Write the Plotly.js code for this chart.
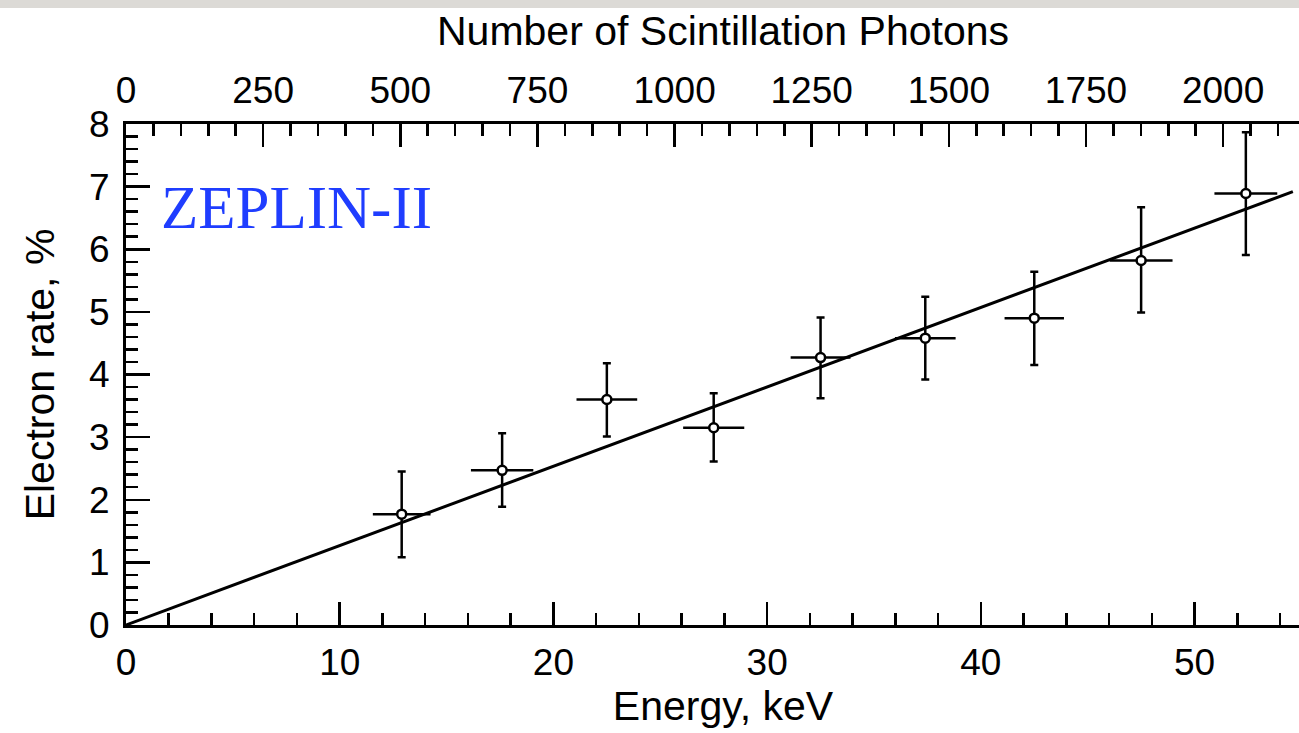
<!DOCTYPE html>
<html>
<head>
<meta charset="utf-8">
<script src="https://cdn.plot.ly/plotly-3.0.1.min.js"></script>
<style>
  html, body { margin: 0; padding: 0; background: #ffffff; overflow: hidden; }
  #chart { width: 1320px; height: 733px; }
</style>
</head>
<body>
<div id="chart"></div>
<script>
// Energy bins (keV) and measured electron rate (%)
const energyKeV   = [12.9, 17.6, 22.5, 27.5, 32.5, 37.4, 42.5, 47.5, 52.4];
const electronRate = [1.77, 2.47, 3.60, 3.15, 4.27, 4.58, 4.90, 5.82, 6.89];
const rateErrPlus  = [0.68, 0.59, 0.58, 0.55, 0.64, 0.66, 0.74, 0.85, 0.98];
const rateErrMinus = [0.69, 0.58, 0.59, 0.54, 0.65, 0.66, 0.75, 0.83, 0.98];
const energyErr    = [1.35, 1.46, 1.42, 1.43, 1.40, 1.42, 1.39, 1.47, 1.47];

// Linear fit through the origin
const fitX = [0, 54.6];
const fitY = [0, 6.92];

// Top axis (number of scintillation photons)
const photonTicks = [0, 250, 500, 750, 1000, 1250, 1500, 1750, 2000];

const sans = 'Liberation Sans, Arial, Helvetica, sans-serif';

const traces = [
  {
    x: fitX, y: fitY, type: 'scatter', mode: 'lines',
    line: { color: '#000000', width: 3 },
    hoverinfo: 'skip', showlegend: false
  },
  {
    x: energyKeV, y: electronRate, type: 'scatter', mode: 'markers',
    marker: { symbol: 'circle', size: 9, color: '#ffffff', line: { color: '#000000', width: 2.5 } },
    error_y: { type: 'data', symmetric: false, array: rateErrPlus, arrayminus: rateErrMinus,
               color: '#000000', thickness: 2.5, width: 4 },
    error_x: { type: 'data', array: energyErr, color: '#000000', thickness: 2.5, width: 0 },
    showlegend: false
  }
];

const layout = {
  width: 1320, height: 733,
  margin: { l: 126, r: 0, t: 124, b: 108 },
  paper_bgcolor: '#ffffff',
  plot_bgcolor: 'rgba(0,0,0,0)',
  showlegend: false,
  font: { family: sans, color: '#000000' },
  xaxis: {
    range: [0, 55.87],
    tickvals: [0, 10, 20, 30, 40, 50],
    ticktext: ['0', '10', '20', '30', '40', '50'],
    ticks: 'inside', ticklen: 23, tickwidth: 2.5, tickcolor: '#000000',
    minor: { dtick: 2, tick0: 0, ticks: 'inside', ticklen: 12, tickwidth: 2.5, tickcolor: '#000000' },
    showline: true, linewidth: 3, linecolor: '#000000',
    showgrid: false, zeroline: false,
    tickfont: { family: sans, size: 37, color: '#000000' },
    ticklabelstandoff: 3,
    title: { text: 'Energy, keV', font: { family: sans, size: 41, color: '#000000' }, standoff: 4 },
    automargin: false
  },
  xaxis2: {
    overlaying: 'x', side: 'top',
    range: [0, 2176.6],
    tickvals: photonTicks,
    ticktext: photonTicks.map(String),
    ticks: 'inside', ticklen: 23, tickwidth: 2.5, tickcolor: '#000000',
    minor: { dtick: 50, tick0: 0, ticks: 'inside', ticklen: 12, tickwidth: 2.5, tickcolor: '#000000' },
    showline: true, linewidth: 3, linecolor: '#000000',
    showgrid: false, zeroline: false,
    tickfont: { family: sans, size: 37, color: '#000000' },
    ticklabelstandoff: 3,
    title: { text: 'Number of Scintillation Photons', font: { family: sans, size: 41, color: '#000000' }, standoff: 12 },
    automargin: false
  },
  yaxis: {
    range: [0, 8],
    tickvals: [0, 1, 2, 3, 4, 5, 6, 7, 8],
    ticks: 'inside', ticklen: 24, tickwidth: 2.5, tickcolor: '#000000',
    minor: { dtick: 0.2, tick0: 0, ticks: 'inside', ticklen: 12, tickwidth: 2.5, tickcolor: '#000000' },
    showline: true, linewidth: 3, linecolor: '#000000',
    showgrid: false, zeroline: false,
    tickfont: { family: sans, size: 37, color: '#000000' },
    ticklabelstandoff: 6,
    title: { text: 'Electron rate, %', font: { family: sans, size: 41, color: '#000000' }, standoff: 22 },
    automargin: false
  },
  shapes: [
    { type: 'rect', xref: 'paper', yref: 'paper', x0: -0.11, x1: 1.01, y0: 1.2315, y1: 1.26,
      fillcolor: '#dcdad6', line: { width: 0 }, layer: 'below' }
  ],
  annotations: [
    { x: 1.55, y: 6.66, xref: 'x', yref: 'y', xanchor: 'left', yanchor: 'middle',
      text: 'ZEPLIN-II', showarrow: false,
      font: { family: 'Liberation Serif, Times New Roman, serif', size: 61, color: '#1f3dff' } }
  ]
};

// attach an empty trace to the top axis so it is drawn
traces.push({ x: [], y: [], xaxis: 'x2', yaxis: 'y', type: 'scatter', mode: 'markers', showlegend: false, hoverinfo: 'skip' });

Plotly.newPlot('chart', traces, layout, { displayModeBar: false, staticPlot: true });
</script>
</body>
</html>
